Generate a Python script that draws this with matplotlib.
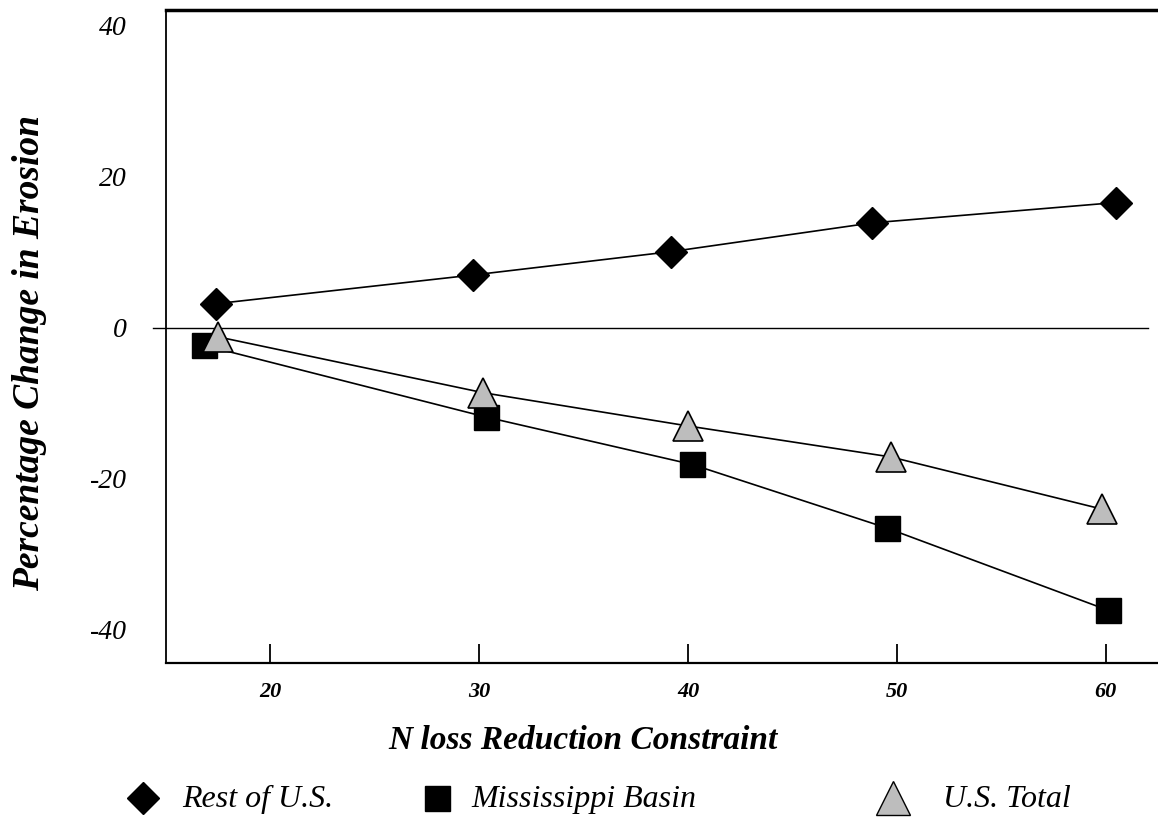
import matplotlib.pyplot as plt
from matplotlib.lines import Line2D

# values
rest_x = [17.4, 29.7, 39.2, 48.8, 60.5]
rest_y = [3.2, 7.0, 10.1, 13.9, 16.6]
miss_x = [16.8, 30.3, 40.2, 49.5, 60.1]
miss_y = [-2.3, -11.8, -18.1, -26.5, -37.4]
total_x = [17.5, 30.2, 40.0, 49.7, 59.8]
total_y = [-1.2, -8.6, -13.0, -17.1, -24.0]
x_ticks = [20, 30, 40, 50, 60]
y_ticks = [40, 20, 0, -20, -40]
labels = ['Rest of U.S.', 'Mississippi Basin', 'U.S. Total']

plt.rcParams['font.family'] = 'Liberation Serif'

fig = plt.figure(figsize=(11.58, 8.21), dpi=100)
ax = fig.add_axes([0.1434, 0.1924, 0.8566, 0.7954])

ax.axhline(0, xmin=-0.013, xmax=0.99, color='black', lw=1.0, clip_on=False, zorder=1)

tri_face = '#bdbdbd'
ax.plot(rest_x, rest_y, color='black', lw=1.2, marker='D', markersize=16,
        markerfacecolor='black', markeredgecolor='black', zorder=3)
ax.plot(miss_x, miss_y, color='black', lw=1.2, marker='s', markersize=18,
        markerfacecolor='black', markeredgecolor='black', zorder=3)
ax.plot(total_x, total_y, color='black', lw=1.2, marker='^', markersize=22,
        markerfacecolor=tri_face, markeredgecolor='black', markeredgewidth=1.2, zorder=4)

ax.set_xlim(15.0, 62.5)
ax.set_ylim(-44.4, 42.1)

ax.set_xticks(x_ticks)
ax.set_xticklabels([str(v) for v in x_ticks], fontsize=16, fontweight='bold', style='italic')
ax.set_yticks(y_ticks)
ax.set_yticklabels([str(v) for v in y_ticks], fontsize=20, style='italic')
ax.tick_params(axis='x', direction='in', length=14, width=1.3, pad=14)
ax.tick_params(axis='y', length=0, pad=28)

ax.spines['right'].set_visible(False)
ax.spines['top'].set_linewidth(2.5)
ax.spines['left'].set_linewidth(1.3)
ax.spines['bottom'].set_linewidth(1.6)

ax.set_xlabel('N loss Reduction Constraint', fontsize=24, fontweight='bold', style='italic')
ax.xaxis.set_label_coords(0.42, -0.095)
ax.set_ylabel('Percentage Change in Erosion', fontsize=27, fontweight='bold', style='italic')
ax.yaxis.set_label_coords(-0.12, 0.475)

# legend row along the bottom
legend_y = 0.0256
entries = [
    (0.1235, 0.157, dict(marker='D', markersize=16, color='black')),
    (0.3774, 0.4067, dict(marker='s', markersize=18, color='black')),
    (0.7712, 0.8143, dict(marker='^', markersize=24, markerfacecolor=tri_face,
                          markeredgecolor='black')),
]
for (mx, tx, style), label in zip(entries, labels):
    fig.add_artist(Line2D([mx], [legend_y + 0.002], ls='none',
                          transform=fig.transFigure, **style))
    fig.text(tx, legend_y, label, fontsize=23, style='italic', va='center', ha='left')

fig.savefig('out.png', dpi=100)
